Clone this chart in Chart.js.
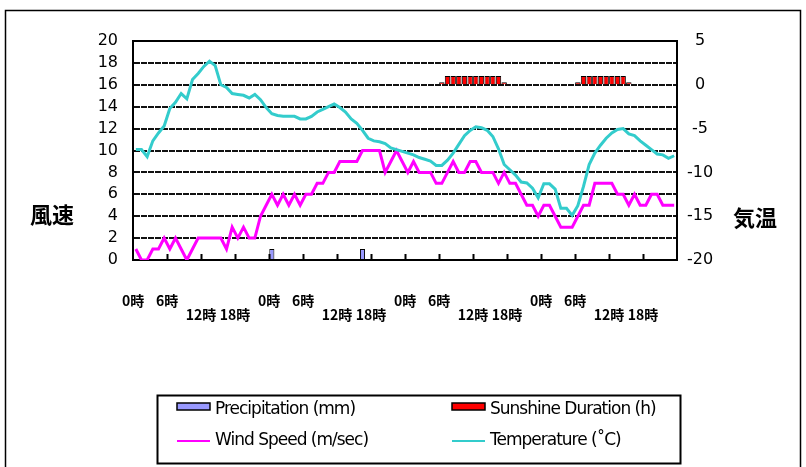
<!DOCTYPE html>
<html>
<head>
<meta charset="utf-8">
<script src="https://cdn.jsdelivr.net/npm/chart.js@4.4.1/dist/chart.umd.min.js"></script>
<style>
  html, body { margin: 0; padding: 0; background: #fff; }
  #wrap { position: relative; width: 806px; height: 467px; }
</style>
</head>
<body>
<div id="wrap"><canvas id="c" width="806" height="467"></canvas></div>
<script>
// Hourly observations over four days (96 hours)
const tickLabels = ['0時', '6時', '12時', '18時', '0時', '6時', '12時', '18時',
                    '0時', '6時', '12時', '18時', '0時', '6時', '12時', '18時'];

// Precipitation (mm), left axis
const precipitation = [
  0,0,0,0,0,0,0,0,0,0,0,0,0,0,0,0,0,0,0,0,0,0,0,0,
  1.0,0,0,0,0,0,0,0,0,0,0,0,0,0,0,0,1.0,0,0,0,0,0,0,0,
  0,0,0,0,0,0,0,0,0,0,0,0,0,0,0,0,0,0,0,0,0,0,0,0,
  0,0,0,0,0,0,0,0,0,0,0,0,0,0,0,0,0,0,0,0,0,0,0,0
];

// Sunshine duration (h), right axis
const sunshine = [
  0,0,0,0,0,0,0,0,0,0,0,0,0,0,0,0,0,0,0,0,0,0,0,0,
  0,0,0,0,0,0,0,0,0,0,0,0,0,0,0,0,0,0,0,0,0,0,0,0,
  0,0,0,0,0,0,0.3,1.0,1.0,1.0,1.0,1.0,1.0,1.0,1.0,1.0,1.0,0.3,0,0,0,0,0,0,
  0,0,0,0,0,0,0.3,1.0,1.0,1.0,1.0,1.0,1.0,1.0,1.0,0.3,0,0,0,0,0,0,0,0
];

// Wind speed (m/sec), left axis
const windSpeed = [
  1,0,0,1,1,2,1,2,1,0,1,2,2,2,2,2,1,3,2,3,2,2,4,5,
  6,5,6,5,6,5,6,6,7,7,8,8,9,9,9,9,10,10,10,10,8,9,10,9,
  8,9,8,8,8,7,7,8,9,8,8,9,9,8,8,8,7,8,7,7,6,5,5,4,
  5,5,4,3,3,3,4,5,5,7,7,7,7,6,6,5,6,5,5,6,6,5,5,5
];

// Temperature (°C), right axis
const temperature = [
  -7.4,-7.4,-8.2,-6.4,-5.5,-4.7,-2.7,-2.0,-1.0,-1.6,0.6,1.3,
  2.1,2.7,2.2,0.0,-0.3,-1.0,-1.1,-1.2,-1.5,-1.1,-1.7,-2.6,
  -3.3,-3.5,-3.6,-3.6,-3.6,-3.9,-3.9,-3.6,-3.1,-2.8,-2.5,-2.2,
  -2.6,-3.1,-3.9,-4.4,-5.2,-6.1,-6.4,-6.5,-6.7,-7.2,-7.4,-7.6,
  -7.8,-8.0,-8.3,-8.5,-8.7,-9.2,-9.2,-8.6,-7.8,-6.8,-5.8,-5.2,
  -4.8,-4.9,-5.2,-5.9,-7.3,-9.1,-9.7,-10.3,-11.1,-11.2,-11.8,-12.9,
  -11.3,-11.3,-11.9,-14.1,-14.1,-14.9,-13.8,-11.6,-9.1,-7.8,-6.9,-6.1,
  -5.5,-5.1,-5.0,-5.6,-5.8,-6.4,-6.9,-7.4,-7.9,-8.0,-8.4,-8.1
];

const hours = precipitation.map((_, i) => String(i));

const legendItems = [
  { text: 'Precipitation (mm)', kind: 'box', color: '#9999ff', x: 177, y: 410 },
  { text: 'Sunshine Duration (h)', kind: 'box', color: '#ff0000', x: 452, y: 410 },
  { text: 'Wind Speed (m/sec)', kind: 'line', color: '#ff00ff', x: 177, y: 441 },
  { text: 'Temperature (˚C)', kind: 'line', color: '#33cccc', x: 452, y: 441 }
];

// Frame, plot border, inner tick marks, axis titles and legend
const decorations = {
  id: 'decorations',
  afterDraw(chart) {
    const ctx = chart.ctx;
    const a = chart.chartArea;
    const xs = chart.scales.x;
    ctx.save();
    ctx.strokeStyle = '#000';

    // top edge of plot
    ctx.lineWidth = 2;
    ctx.beginPath();
    ctx.moveTo(a.left - 1, a.top);
    ctx.lineTo(a.right + 1, a.top);
    ctx.stroke();

    // inward tick marks every 6 hours
    const step = xs.width / hours.length;
    ctx.lineWidth = 2;
    ctx.beginPath();
    for (let k = 6; k < hours.length; k += 6) {
      const px = Math.round(xs.left + k * step) + 0.5;
      ctx.moveTo(px, a.bottom);
      ctx.lineTo(px, a.bottom - 6);
    }
    ctx.stroke();

    // outer frame
    ctx.lineWidth = 1.5;
    ctx.strokeRect(5.5, 10.5, 795, 460);

    // axis titles
    ctx.fillStyle = '#000';
    ctx.font = 'bold 22px "Noto Sans CJK JP"';
    ctx.textAlign = 'center';
    ctx.textBaseline = 'middle';
    ctx.fillText('風速', 52, 215);
    ctx.fillText('気温', 755, 218);

    // legend box
    ctx.lineWidth = 2;
    ctx.strokeRect(157.5, 395.5, 523, 68);

    ctx.font = '17px "DejaVu Sans"';
    ctx.letterSpacing = '-1px';
    ctx.textAlign = 'left';
    legendItems.forEach(it => {
      if (it.kind === 'box') {
        ctx.fillStyle = it.color;
        ctx.fillRect(it.x, it.y - 7, 33, 7);
        ctx.lineWidth = 1.5;
        ctx.strokeStyle = '#000';
        ctx.strokeRect(it.x, it.y - 7, 33, 7);
      } else {
        ctx.strokeStyle = it.color;
        ctx.lineWidth = 2;
        ctx.beginPath();
        ctx.moveTo(it.x, it.y);
        ctx.lineTo(it.x + 33, it.y);
        ctx.stroke();
      }
      ctx.fillStyle = '#000';
      ctx.fillText(it.text, it.x + 38, it.y);
    });
    ctx.restore();
  }
};

Chart.defaults.font.family = '"DejaVu Sans"';
Chart.defaults.color = '#000';

new Chart(document.getElementById('c'), {
  data: {
    labels: hours,
    datasets: [
      {
        type: 'line', label: 'Temperature (˚C)', data: temperature, yAxisID: 'y2',
        borderColor: '#33cccc', borderWidth: 3, pointRadius: 0, tension: 0, order: 1
      },
      {
        type: 'line', label: 'Wind Speed (m/sec)', data: windSpeed, yAxisID: 'y',
        borderColor: '#ff00ff', borderWidth: 3, pointRadius: 0, tension: 0, order: 2
      },
      {
        type: 'bar', label: 'Sunshine Duration (h)', data: sunshine, yAxisID: 'y2',
        backgroundColor: '#ff0000', borderColor: '#000', borderWidth: 1,
        grouped: false, barPercentage: 0.95, categoryPercentage: 1, order: 3
      },
      {
        type: 'bar', label: 'Precipitation (mm)', data: precipitation, yAxisID: 'y',
        backgroundColor: '#9999ff', borderColor: '#000', borderWidth: 1,
        grouped: false, barPercentage: 0.9, categoryPercentage: 1, order: 4
      }
    ]
  },
  options: {
    responsive: false,
    animation: false,
    devicePixelRatio: 1,
    layout: { padding: { left: 0, right: 0, top: 41, bottom: 137 } },
    plugins: { legend: { display: false }, tooltip: { enabled: false } },
    scales: {
      x: {
        type: 'category',
        offset: true,
        afterFit(s) { s.height = 70; },
        grid: { display: false, drawTicks: false },
        border: { display: true, color: '#000', width: 2 },
        ticks: {
          autoSkip: false, maxRotation: 0, minRotation: 0,
          labelOffset: -2.8, padding: 34,
          font: { family: '"Noto Sans CJK JP"', size: 14, weight: 'bold', lineHeight: 1.0 },
          callback(v, i) {
            if (i % 6 !== 0) return '';
            const k = i / 6;
            return (k % 4 >= 2) ? ['', tickLabels[k]] : tickLabels[k];
          }
        }
      },
      y: {
        position: 'left',
        min: 0, max: 20,
        afterFit(s) { s.width = 133; },
        grid: {
          color: (c) => (c.tick.value === 0 || c.tick.value === 20) ? 'rgba(0,0,0,0)' : '#111',
          lineWidth: 2, drawTicks: false
        },
        border: { display: true, color: '#000', width: 2, dash: [6, 1] },
        ticks: { stepSize: 2, autoSkip: false, padding: 15, font: { size: 16 } }
      },
      y2: {
        position: 'right',
        min: -20, max: 5,
        afterFit(s) { s.width = 129; },
        grid: { drawOnChartArea: false, drawTicks: false },
        border: { display: true, color: '#000', width: 2 },
        ticks: { stepSize: 5, autoSkip: false, padding: 10, crossAlign: 'center', font: { size: 16 } }
      }
    }
  },
  plugins: [decorations]
});
</script>
</body>
</html>
